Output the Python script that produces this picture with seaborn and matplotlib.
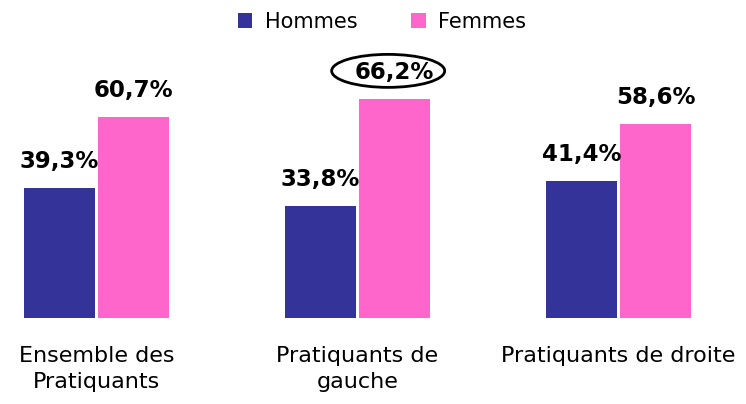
import matplotlib
matplotlib.use("Agg")
import matplotlib.pyplot as plt
from matplotlib.patches import Ellipse
import seaborn as sns
import pandas as pd

categories = ["Ensemble des\nPratiquants", "Pratiquants de\ngauche", "Pratiquants de droite"]
series = ["Hommes", "Femmes"]
hommes = [39.3, 33.8, 41.4]
femmes = [60.7, 66.2, 58.6]
colors = ["#333399", "#FF66CC"]

df = pd.DataFrame({
    "cat": categories * 2,
    "sexe": [series[0]] * 3 + [series[1]] * 3,
    "val": hommes + femmes,
})

sns.set_theme(style="white")
plt.rcParams["font.family"] = ["DejaVu Sans"]
plt.rcParams["text.color"] = "black"
plt.rcParams["xtick.color"] = "black"

fig = plt.figure(figsize=(7.46, 4.04), dpi=100)
ax = fig.add_axes([0, 86 / 404, 1, 318 / 404])
sns.barplot(data=df, x="cat", y="val", hue="sexe", order=categories,
            hue_order=series, palette=colors, width=0.57, gap=0.04,
            saturation=1, ax=ax, linewidth=0)

ax.set_xlim((0 - 96.5) / 261, (746 - 96.5) / 261)
ax.set_ylim(0, 318 / 3.31)
for s in ax.spines.values():
    s.set_visible(False)
ax.set_yticks([])
ax.set_xlabel("")
ax.set_ylabel("")
ax.tick_params(axis="x", length=0, pad=20, labelsize=16, labelcolor="black")
for t in ax.get_xticklabels():
    t.set_linespacing(1.4)

for cont, vals in zip(ax.containers, [hommes, femmes]):
    ax.bar_label(cont, labels=[f"{v:.1f}%".replace(".", ",") for v in vals],
                 padding=11, fontsize=16.5, fontweight="bold", color="black")

# ellipse around the highlighted value
bar = ax.containers[1].patches[1]
cx = bar.get_x() + bar.get_width() / 2 - 0.025
cy = bar.get_height() + 28 / 3.31
ax.add_patch(Ellipse((cx, cy), 113 / 261, 33 / 3.31, fill=False,
                     edgecolor="black", linewidth=2, clip_on=False))

leg = ax.legend(loc="center", bbox_to_anchor=(382 / 746, 1 - 22 / 404),
                bbox_transform=fig.transFigure, ncol=2, frameon=False,
                fontsize=15, handlelength=0.7, handleheight=0.7,
                handletextpad=0.6, columnspacing=2.6)
for t in leg.get_texts():
    t.set_color("black")

fig.savefig("out.png", dpi=100)
